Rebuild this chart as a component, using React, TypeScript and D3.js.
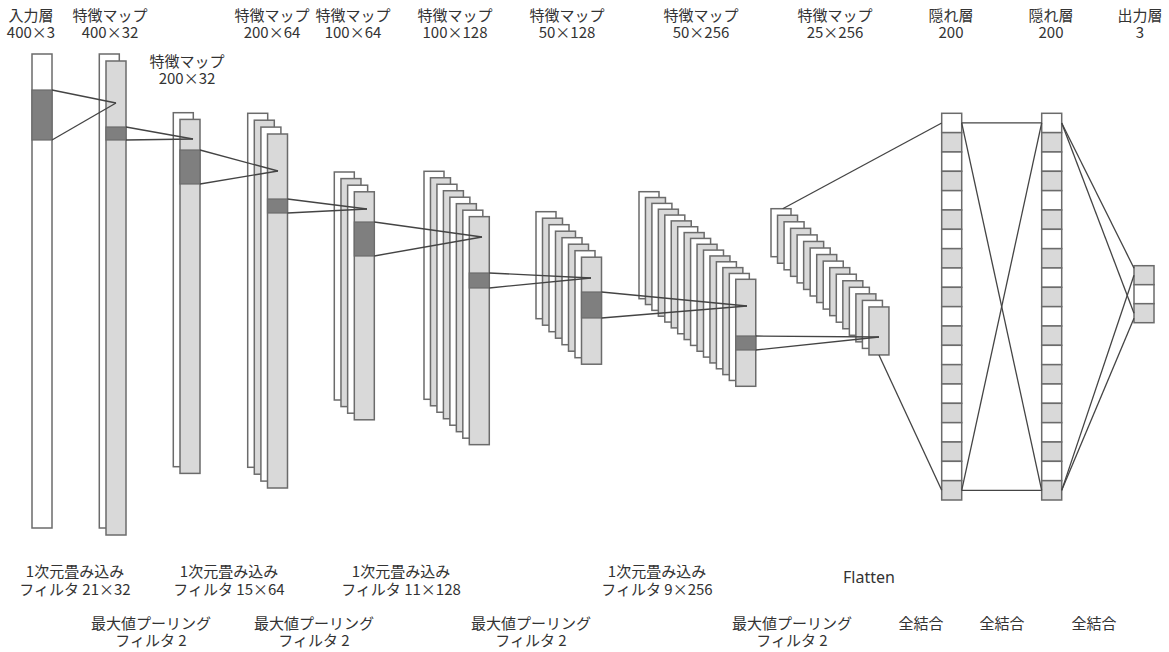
import React from 'react';
import * as d3 from 'd3';

// ---- Data ----
const mapTitles = ['入力層', '特徴マップ', '特徴マップ', '特徴マップ', '特徴マップ', '特徴マップ', '特徴マップ', '特徴マップ', '特徴マップ'];
const mapSizes = ['400×3', '400×32', '200×32', '200×64', '100×64', '100×128', '50×128', '50×256', '25×256'];
const mapSlices = [1, 2, 2, 4, 4, 8, 8, 16, 16];

const denseTitles = ['隠れ層', '隠れ層', '出力層'];
const denseSizes = ['200', '200', '3'];
const denseCells = [20, 20, 3];

const convLabels = [
  ['1次元畳み込み', 'フィルタ 21×32'],
  ['1次元畳み込み', 'フィルタ 15×64'],
  ['1次元畳み込み', 'フィルタ 11×128'],
  ['1次元畳み込み', 'フィルタ 9×256'],
];
const poolLabels = [
  ['最大値プーリング', 'フィルタ 2'],
  ['最大値プーリング', 'フィルタ 2'],
  ['最大値プーリング', 'フィルタ 2'],
  ['最大値プーリング', 'フィルタ 2'],
];
const flattenLabel = 'Flatten';
const fcLabels = ['全結合', '全結合', '全結合'];

// ---- Layout ----
const W = 1169;
const H = 652;
const SW = 20; // slice width
const mapX = [32, 99.3, 173.3, 247.7, 334.3, 424, 536, 639, 771];
const mapTop = [54, 54, 112.7, 113.3, 172, 171.3, 211.7, 191.7, 208.7];
const mapH = [474, 474, 354, 354, 228, 228, 107, 107, 48];
const mapDX = [0, 6.7, 6.7, 6.6, 6.67, 6.47, 6.5, 6.45, 6.53];
const mapDY = [0, 7, 6.7, 6.9, 6.6, 6.48, 6.5, 5.84, 6.55];
const mapTitleX = [31, 110, 187, 272, 353, 455, 567, 701, 835];
const mapTitleY = [21, 21, 67, 21, 21, 21, 21, 21, 21];
// window (highlight) on front slice of layer i, feeding layer i+1
const windowY: [number, number][] = [[90, 140], [127, 140], [150, 184], [199, 213], [222, 256], [273, 288], [292, 318], [336, 350]];
// apex point inside layer i+1
const apexPts: [number, number][] = [[116, 103], [193, 139], [278, 171], [367, 209], [482, 237], [591, 278], [747, 306], [879, 337]];

const denseX = [941.7, 1041.7, 1134];
const denseTop = [113.3, 113.3, 265.7];
const denseBottom = [500, 500, 322.7];
const denseTitleX = [951, 1051, 1140];
const denseGrayFirst = [false, false, true];

const convX = [75, 229, 401, 657];
const poolX = [151, 314, 531, 792];
const fcX = [921, 1002, 1094];
const flattenX = 869;

const C_STROKE = '#6b6b6b';
const C_LINE = '#444444';
const C_GRAY = '#d9d9d9';
const C_DARK = '#7f7f7f';
const C_TEXT = '#333333';
const FONT = '"Noto Sans CJK JP", "Noto Sans", sans-serif';

export default function App() {
  const off = d3.scaleLinear().domain([0, 1]).range([0, 1]);

  // stacked slices
  const slices: { x: number; y: number; h: number; fill: string; key: string }[] = [];
  mapSlices.forEach((n, li) => {
    d3.range(n).forEach((k) => {
      const fill = li === 0 ? '#ffffff' : (n - 1 - k) % 2 === 0 ? C_GRAY : '#ffffff';
      slices.push({
        x: mapX[li] + off(k) * mapDX[li],
        y: mapTop[li] + off(k) * mapDY[li],
        h: mapH[li],
        fill,
        key: `s-${li}-${k}`,
      });
    });
  });

  const front = (li: number) => ({
    x: mapX[li] + (mapSlices[li] - 1) * mapDX[li],
    y: mapTop[li] + (mapSlices[li] - 1) * mapDY[li],
    h: mapH[li],
  });

  const windows = windowY.map((w, i) => {
    const f = front(i);
    return { x: f.x, y: w[0], h: w[1] - w[0], key: `w-${i}` };
  });

  const convLines: { x1: number; y1: number; x2: number; y2: number; key: string }[] = [];
  windowY.forEach((w, i) => {
    const f = front(i);
    const [ax, ay] = apexPts[i];
    convLines.push({ x1: f.x + SW, y1: w[0], x2: ax, y2: ay, key: `cl-a-${i}` });
    convLines.push({ x1: f.x + SW, y1: w[1], x2: ax, y2: ay, key: `cl-b-${i}` });
  });

  // dense layers via band scales
  const bands = denseCells.map((n, i) =>
    d3.scaleBand<number>().domain(d3.range(n)).range([denseTop[i], denseBottom[i]]).paddingInner(0).paddingOuter(0)
  );
  const cells: { x: number; y: number; h: number; fill: string; key: string }[] = [];
  denseCells.forEach((n, i) => {
    d3.range(n).forEach((k) => {
      const gray = denseGrayFirst[i] ? k % 2 === 0 : k % 2 === 1;
      cells.push({ x: denseX[i], y: bands[i](k)!, h: bands[i].bandwidth(), fill: gray ? C_GRAY : '#ffffff', key: `c-${i}-${k}` });
    });
  });
  const cMid = (i: number, k: number) => bands[i](k)! + bands[i].bandwidth() / 2;
  const cAt = (i: number, k: number, f: number) => bands[i](k)! + bands[i].bandwidth() * f;

  const last = mapSlices.length - 1;
  const fLast = front(last);
  const lastCell = denseCells[0] - 1;
  const fcLines = [
    // flatten
    { x1: mapX[last] + 11.7, y1: mapTop[last], x2: denseX[0], y2: cMid(0, 0) },
    { x1: fLast.x + 10, y1: fLast.y + fLast.h, x2: denseX[0], y2: cMid(0, lastCell) },
    // hidden1 -> hidden2
    { x1: denseX[0] + SW, y1: cMid(0, 0), x2: denseX[1], y2: cMid(1, 0) },
    { x1: denseX[0] + SW, y1: cMid(0, lastCell), x2: denseX[1], y2: cMid(1, lastCell) },
    { x1: denseX[0] + SW, y1: cMid(0, 0), x2: denseX[1], y2: cMid(1, lastCell) },
    { x1: denseX[0] + SW, y1: cMid(0, lastCell), x2: denseX[1], y2: cMid(1, 0) },
    // hidden2 -> output
    { x1: denseX[1] + SW, y1: cMid(1, 0), x2: denseX[2], y2: cAt(2, 0, 0.13) },
    { x1: denseX[1] + SW, y1: cMid(1, 0), x2: denseX[2], y2: cMid(2, 2) },
    { x1: denseX[1] + SW, y1: cMid(1, lastCell), x2: denseX[2], y2: cMid(2, 0) },
    { x1: denseX[1] + SW, y1: cMid(1, lastCell), x2: denseX[2], y2: cAt(2, 2, 0.77) },
  ];

  const textProps = { fontFamily: FONT, fontSize: 15, fill: C_TEXT, textAnchor: 'middle' as const };

  const twoLine = (key: string, x: number, y: number, l1: string, l2: string, dy: number) => (
    <text key={key} x={x} y={y} {...textProps}>
      <tspan x={x} y={y}>{l1}</tspan>
      <tspan x={x} y={y + dy}>{l2}</tspan>
    </text>
  );

  return (
    <svg width={W} height={H} style={{ position: 'absolute', left: 0, top: 0, display: 'block', background: '#fff' }}>
      {/* top labels */}
      {mapTitles.map((t, i) => twoLine(`mt-${i}`, mapTitleX[i], mapTitleY[i], t, mapSizes[i], 17))}
      {denseTitles.map((t, i) => twoLine(`dt-${i}`, denseTitleX[i], 21, t, denseSizes[i], 17))}

      {/* feature map slices */}
      {slices.map((s) => (
        <rect key={s.key} x={s.x} y={s.y} width={SW} height={s.h} fill={s.fill} stroke={C_STROKE} strokeWidth={1.5} />
      ))}
      {windows.map((w) => (
        <rect key={w.key} x={w.x} y={w.y} width={SW} height={w.h} fill={C_DARK} stroke={C_STROKE} strokeWidth={1.2} />
      ))}

      {/* dense cells */}
      {cells.map((c) => (
        <rect key={c.key} x={c.x} y={c.y} width={SW} height={c.h} fill={c.fill} stroke={C_STROKE} strokeWidth={1.5} />
      ))}

      {/* connection lines */}
      {convLines.map((l) => (
        <line key={l.key} x1={l.x1} y1={l.y1} x2={l.x2} y2={l.y2} stroke={C_LINE} strokeWidth={1.3} />
      ))}
      {fcLines.map((l, i) => (
        <line key={`fl-${i}`} x1={l.x1} y1={l.y1} x2={l.x2} y2={l.y2} stroke={C_LINE} strokeWidth={1.3} />
      ))}

      {/* bottom labels */}
      {convLabels.map((ls, i) => twoLine(`cv-${i}`, convX[i], 577, ls[0], ls[1], 18))}
      {poolLabels.map((ls, i) => twoLine(`pl-${i}`, poolX[i], 629, ls[0], ls[1], 17))}
      <text x={flattenX} y={583} {...textProps} fontFamily='"Noto Sans", sans-serif' fontSize={16}>{flattenLabel}</text>
      {fcLabels.map((t, i) => (
        <text key={`fc-${i}`} x={fcX[i]} y={629} {...textProps}>{t}</text>
      ))}
    </svg>
  );
}
